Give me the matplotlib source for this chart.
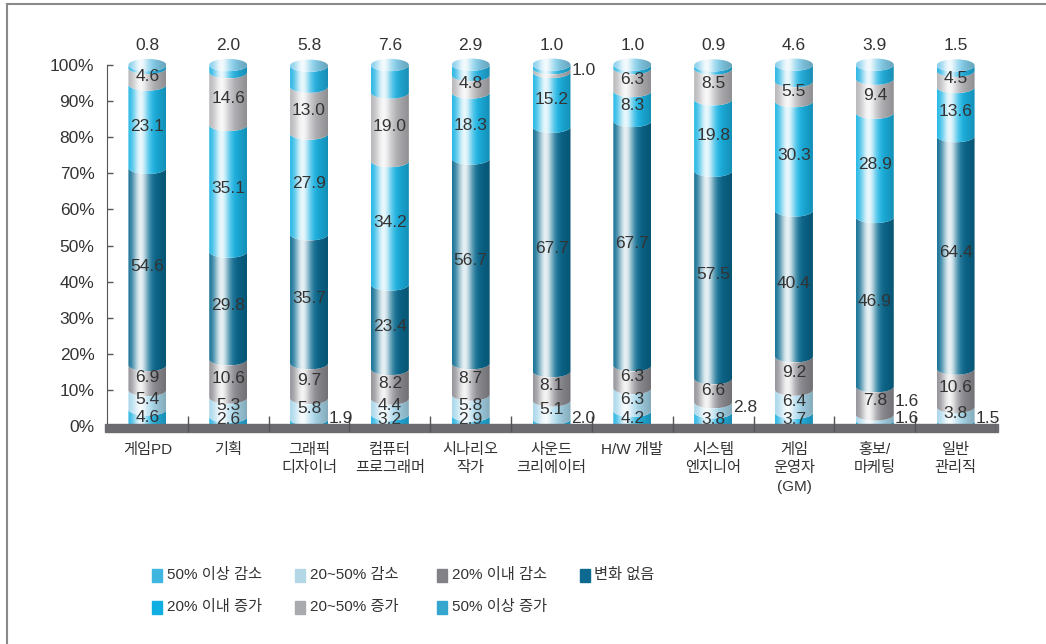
import numpy as np
import matplotlib
matplotlib.use('Agg')
import matplotlib.pyplot as plt
from matplotlib import font_manager
from matplotlib.colors import to_rgb
from matplotlib.path import Path
from matplotlib.patches import PathPatch, Ellipse, Rectangle
from matplotlib.lines import Line2D

# 직종별 인력 증감 전망 (%)
categories = ['게임PD', '기획', '그래픽\n디자이너', '컴퓨터\n프로그래머', '시나리오\n작가',
              '사운드\n크리에이터', 'H/W 개발', '시스템\n엔지니어', '게임\n운영자\n(GM)',
              '홍보/\n마케팅', '일반\n관리직']
series_names = ['50% 이상 감소', '20~50% 감소', '20% 이내 감소', '변화 없음',
                '20% 이내 증가', '20~50% 증가', '50% 이상 증가']
dec_50 = [4.6, 2.6, 1.9, 3.2, 2.9, 2.0, 4.2, 3.8, 3.7, 1.6, 1.5]
dec_20_50 = [5.4, 5.3, 5.8, 4.4, 5.8, 5.1, 6.3, 2.8, 6.4, 1.6, 3.8]
dec_20 = [6.9, 10.6, 9.7, 8.2, 8.7, 8.1, 6.3, 6.6, 9.2, 7.8, 10.6]
no_change = [54.6, 29.8, 35.7, 23.4, 56.7, 67.7, 67.7, 57.5, 40.4, 46.9, 64.4]
inc_20 = [23.1, 35.1, 27.9, 34.2, 18.3, 15.2, 8.3, 19.8, 30.3, 28.9, 13.6]
inc_20_50 = [4.6, 14.6, 13.0, 19.0, 4.8, 1.0, 6.3, 8.5, 5.5, 9.4, 4.5]
inc_50 = [0.8, 2.0, 5.8, 7.6, 2.9, 1.0, 1.0, 0.9, 4.6, 3.9, 1.5]

series = [dec_50, dec_20_50, dec_20, no_change, inc_20, inc_20_50, inc_50]

legend_colors = ['#3eb6e0', '#b4d7e6', '#818186', '#0d6990', '#10afe2', '#a9aaae', '#35a7cf']
body_colors = ['#22b2e2', '#a6d6ea', '#8e8e94', '#0a6a90', '#1ab4e4', '#b4b4b8', '#22b2e2']

# 막대 옆에 따로 붙는 작은 값 (직종 번호, 계열 번호)
side_labels = {(2, 0), (5, 0), (5, 5), (7, 1), (9, 0), (9, 1), (10, 0)}

names = {f.name for f in font_manager.fontManager.ttflist}
num_font = 'Liberation Sans Narrow' if 'Liberation Sans Narrow' in names else 'Liberation Sans'
plt.rcParams['font.family'] = [num_font, 'Noto Sans CJK KR']
txt_color = '#333333'
num_size = 12.5

fig = plt.figure(figsize=(10.46, 6.44), dpi=100)
ax = fig.add_axes([107 / 1046, 0.3273, 889 / 1046, 0.6166])

a = 0.235   # 원통 반지름 (x 단위)
b = 1.7     # 타원 반높이 (y 단위)


def shade(base, n=64, light=0.0):
    t = np.linspace(0, 1, n)
    c = np.array(to_rgb(base))
    c = c * (1 - light) + light
    w = 0.9 * np.exp(-((t - 0.33) / 0.21) ** 2)
    d = 0.2 * np.clip((t - 0.6) / 0.4, 0, 1)
    rgb = c[None, :] * (1 - w[:, None]) + w[:, None]
    rgb = rgb * (1 - d[:, None])
    return rgb[None, :, :]


def seg_path(x, y0, y1, n=40):
    th = np.linspace(np.pi, 2 * np.pi, n)
    top = np.c_[x + a * np.cos(th), y1 + b * np.sin(th)]
    bot = np.c_[x + a * np.cos(th[::-1]), y0 + b * np.sin(th[::-1])]
    verts = np.vstack([top, bot, top[:1]])
    codes = [Path.MOVETO] + [Path.LINETO] * (len(verts) - 2) + [Path.CLOSEPOLY]
    return Path(verts, codes)


for i in range(len(categories)):
    bottom = 0.0
    n_side = 0
    last_in = -10.0
    for s, vals in enumerate(series):
        v = vals[i]
        y0, y1 = bottom, bottom + v
        patch = PathPatch(seg_path(i, y0, y1), transform=ax.transData)
        im = ax.imshow(shade(body_colors[s]), extent=(i - a, i + a, y0 - b, y1 + b),
                       aspect='auto', interpolation='bilinear', zorder=2)
        im.set_clip_path(patch)
        mid = (y0 + y1) / 2
        if s == len(series) - 1:
            ax.text(i, 105.5, f'{v:.1f}', ha='center', va='center',
                    fontsize=num_size, color=txt_color, zorder=6)
        elif (i, s) in side_labels:
            ax.text(i + a + 0.01, max(mid, 2.2 + 4.6 * n_side), f'{v:.1f}',
                    ha='left', va='center', fontsize=num_size, color=txt_color, zorder=6)
            n_side += 1
        else:
            y = max(mid, 1.8, last_in + 3.9)
            ax.text(i, y, f'{v:.1f}', ha='center', va='center',
                    fontsize=num_size, color=txt_color, zorder=3)
            last_in = y
        bottom = y1
    # 윗면 타원
    cap = Ellipse((i, bottom), 2 * a, 2 * b, transform=ax.transData)
    im = ax.imshow(shade('#6cc4e6', light=0.15), extent=(i - a, i + a, bottom - b, bottom + b),
                   aspect='auto', interpolation='bilinear', zorder=2.5)
    im.set_clip_path(cap)

ax.set_xlim(-0.5, 10.5)
ax.set_ylim(-2, 108)

# 바닥 띠와 구분 눈금
ax.add_patch(Rectangle((-0.53, -1.7), 11.05, 2.2, color='#6b6b70', zorder=4, clip_on=False))
ax.vlines(np.arange(0.5, 11, 1), -1.7, 2.8, color='#555555', lw=1, zorder=4)

ax.set_xticks(range(len(categories)))
ax.set_xticklabels(categories, fontsize=11, color=txt_color, linespacing=1.4, va='top')
ax.tick_params(axis='x', length=0, pad=7)
ax.set_yticks(range(0, 101, 10))
ax.set_yticklabels([f'{v}%' for v in range(0, 101, 10)], fontsize=num_size, color=txt_color)
ax.tick_params(axis='y', direction='in', length=4, width=1, color='#555555', pad=9)
for sp in ['top', 'right', 'bottom']:
    ax.spines[sp].set_visible(False)
ax.spines['left'].set_bounds(0, 100)
ax.spines['left'].set_color('#555555')

# 바깥 테두리
fig.add_artist(Line2D([7 / 1046, 7 / 1046], [0, 1 - 4 / 644], transform=fig.transFigure,
                      color='#8a8a8a', lw=1.5))
fig.add_artist(Line2D([7 / 1046, 1], [1 - 4 / 644, 1 - 4 / 644], transform=fig.transFigure,
                      color='#8a8a8a', lw=1.5))

# 범례
for k, name in enumerate(series_names):
    row, col = divmod(k, 4)
    x0 = (152 + 142.5 * col) / 1046
    yc = 1 - (575 + 32 * row) / 644
    fig.add_artist(Rectangle((x0, yc - 6.5 / 644), 10 / 1046, 13 / 644,
                             color=legend_colors[k], transform=fig.transFigure))
    fig.text(x0 + 15 / 1046, yc, name, ha='left', va='center', fontsize=11, color=txt_color)

fig.savefig('out.png', dpi=100)
